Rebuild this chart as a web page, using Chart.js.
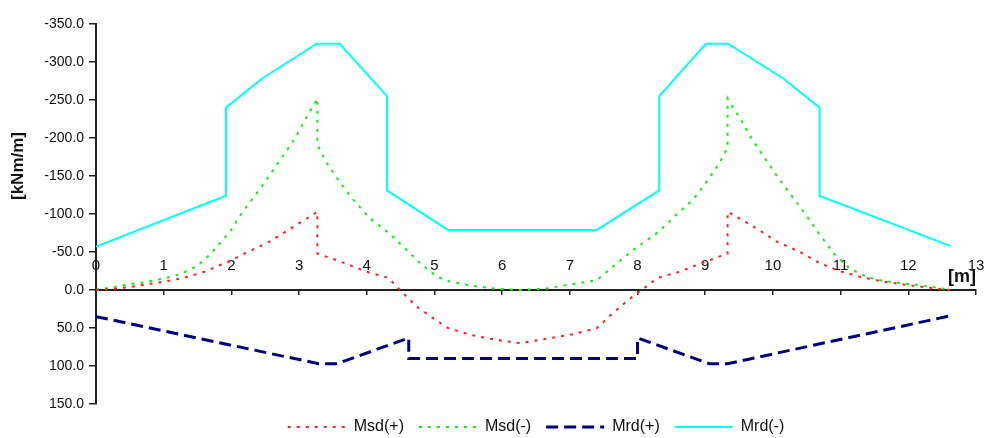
<!DOCTYPE html>
<html>
<head>
<meta charset="utf-8">
<title>Moment envelope</title>
<script src="https://cdn.jsdelivr.net/npm/chart.js@4/dist/chart.umd.min.js"></script>
<style>
  html, body { margin: 0; padding: 0; background: #ffffff; }
  #wrap { width: 986px; height: 438px; }
</style>
</head>
<body>
<div id="wrap"><canvas id="chart" width="986" height="438"></canvas></div>
<script>
// Bending moment envelope along the slab strip [m] vs [kNm/m]
const yAxisTitle = '[kNm/m]';
const xAxisTitle = '[m]';
const seriesNames = ['Msd(+)', 'Msd(-)', 'Mrd(+)', 'Mrd(-)'];

// Msd(+): design moment, positive envelope
const msdPosX = [0, 0.2, 0.5, 1.0, 1.3, 1.6, 1.92, 2.22, 2.57, 2.86, 3.15, 3.27, 3.27, 3.56, 3.80, 4.00, 4.32, 4.49, 4.74, 4.98, 5.20, 5.53, 5.87, 6.27, 6.66, 7.05, 7.40, 7.64, 7.88, 8.06, 8.30, 8.62, 8.82, 9.06, 9.33, 9.33, 9.47, 9.76, 10.05, 10.40, 10.70, 11.02, 11.29, 11.63, 11.98, 12.27, 12.50, 12.62];
const msdPosY = [0, -1, -4, -11, -16, -24, -36, -49, -64, -80, -96, -103, -48, -39, -31, -24, -16, 0, 22, 37, 50, 59, 65, 70, 64, 58, 50, 30, 12, 0, -16, -24, -31, -39, -48, -103, -96, -81, -64, -50, -35, -24, -17.5, -11, -6.6, -3.5, -1, 0];

// Msd(-): design moment, negative envelope
const msdNegX = [0, 0.2, 0.45, 0.7, 1.0, 1.25, 1.5, 1.7, 1.99, 2.13, 2.52, 2.92, 3.06, 3.27, 3.27, 3.41, 3.61, 3.80, 4.05, 4.30, 4.54, 4.79, 5.03, 5.23, 5.53, 5.87, 6.27, 6.66, 7.05, 7.40, 7.64, 7.94, 8.32, 8.56, 8.82, 9.01, 9.21, 9.33, 9.33, 9.56, 9.70, 10.10, 10.47, 10.65, 10.90, 11.14, 11.39, 11.63, 11.98, 12.27, 12.50, 12.62];
const msdNegY = [0, -3, -7, -10, -15, -21, -32, -48, -78, -98, -145, -197, -219, -252, -191, -167, -141, -119, -94, -77, -57, -35, -18, -11, -6, -2, 0, -2, -8, -13, -31, -53, -77, -98, -119, -141, -167, -187, -252, -219, -197, -145, -101, -78, -48, -28, -17, -12, -8, -5, -2, 0];

// Mrd(+): resisting moment, bottom reinforcement
const mrdPosX = [0, 3.29, 3.56, 4.62, 4.62, 8.00, 8.00, 9.06, 9.33, 12.62];
const mrdPosY = [35, 97, 97, 63, 90, 90, 63, 97, 97, 34];

// Mrd(-): resisting moment, top reinforcement
const mrdNegX = [0, 1.92, 1.92, 2.45, 3.26, 3.60, 4.30, 4.30, 5.20, 7.40, 8.32, 8.32, 9.01, 9.34, 10.16, 10.69, 10.69, 12.62];
const mrdNegY = [-57, -124, -240, -278, -324, -324, -255, -131, -79, -79, -131, -255, -324, -324, -278, -240, -124, -58];

// Axis ranges and tick steps
const yRange = [-350, 150];
const yStep = 50;
const xRange = [0, 13];
const xStep = 1;

const toPoints = (xs, ys) => xs.map((x, i) => ({ x: x, y: ys[i] }));

const FONT = "'Liberation Sans', Arial, Helvetica, sans-serif";
Chart.defaults.font.family = FONT;
Chart.defaults.color = '#111111';

// Rotated caption left of the value axis
const yCaption = {
  id: 'yCaption',
  afterDraw(chart) {
    const { ctx, chartArea } = chart;
    ctx.save();
    ctx.translate(chartArea.left - 78, chartArea.top + 142);
    ctx.rotate(-Math.PI / 2);
    ctx.font = 'bold 17px ' + FONT;
    ctx.fillStyle = '#111111';
    ctx.textAlign = 'center';
    ctx.textBaseline = 'middle';
    ctx.fillText(yAxisTitle, 0, 0);
    ctx.restore();
  }
};

// Legend entries drawn as short strokes carrying each series' own dash pattern
const lineLegendLabels = (chart) => {
  const items = Chart.defaults.plugins.legend.labels.generateLabels(chart);
  return items.map((item) => {
    const ds = chart.data.datasets[item.datasetIndex];
    item.pointStyle = 'line';
    item.strokeStyle = ds.borderColor;
    item.lineWidth = ds.borderWidth;
    item.lineDash = ds.borderDash || [];
    item.lineCap = 'butt';
    return item;
  });
};

new Chart(document.getElementById('chart'), {
  type: 'scatter',
  data: {
    datasets: [
      {
        label: seriesNames[0],
        data: toPoints(msdPosX, msdPosY),
        showLine: true,
        borderColor: '#ff2020',
        backgroundColor: '#ff2020',
        borderWidth: 2,
        borderDash: [3, 6],
        pointRadius: 0,
        tension: 0
      },
      {
        label: seriesNames[1],
        data: toPoints(msdNegX, msdNegY),
        showLine: true,
        borderColor: '#10f010',
        backgroundColor: '#10f010',
        borderWidth: 2,
        borderDash: [3, 6],
        pointRadius: 0,
        tension: 0
      },
      {
        label: seriesNames[2],
        data: toPoints(mrdPosX, mrdPosY),
        showLine: true,
        borderColor: '#000080',
        backgroundColor: '#000080',
        borderWidth: 3,
        borderDash: [12, 6],
        pointRadius: 0,
        tension: 0
      },
      {
        label: seriesNames[3],
        data: toPoints(mrdNegX, mrdNegY),
        showLine: true,
        borderColor: '#00ffff',
        backgroundColor: '#00ffff',
        borderWidth: 2,
        pointRadius: 0,
        tension: 0
      }
    ]
  },
  options: {
    responsive: false,
    animation: false,
    layout: { padding: { left: 0, right: 10, top: 24, bottom: -7 } },
    plugins: {
      tooltip: { enabled: false },
      legend: {
        position: 'bottom',
        fullSize: false,
        labels: {
          usePointStyle: true,
          pointStyle: 'line',
          pointStyleWidth: 58,
          padding: 15,
          color: '#111111',
          font: { size: 16 },
          generateLabels: lineLegendLabels
        }
      }
    },
    scales: {
      x: {
        type: 'linear',
        position: { y: 0 },
        min: xRange[0],
        max: xRange[1],
        afterFit: (scale) => { scale.height = 0; },
        border: { display: true, color: '#222222', width: 2 },
        grid: { drawOnChartArea: false, drawTicks: true, tickLength: 4, color: '#222222', lineWidth: 1.5 },
        ticks: {
          stepSize: xStep,
          padding: -37,
          maxRotation: 0,
          autoSkip: false,
          color: '#111111',
          font: { size: 15 },
          callback: (v) => String(v)
        },
        title: {
          display: true,
          text: xAxisTitle,
          align: 'end',
          color: '#111111',
          font: { size: 18, weight: 'bold' },
          padding: { top: 0, bottom: 2 }
        }
      },
      y: {
        type: 'linear',
        position: 'left',
        reverse: true,
        min: yRange[0],
        max: yRange[1],
        afterFit: (scale) => { scale.width = 96; },
        border: { display: true, color: '#222222', width: 2 },
        grid: { drawOnChartArea: false, drawTicks: true, tickLength: 7, color: '#222222', lineWidth: 1.5 },
        ticks: {
          stepSize: yStep,
          padding: 5,
          color: '#111111',
          font: { size: 14 },
          callback: (v) => Number(v).toFixed(1)
        }
      }
    }
  },
  plugins: [yCaption]
});
</script>
</body>
</html>
